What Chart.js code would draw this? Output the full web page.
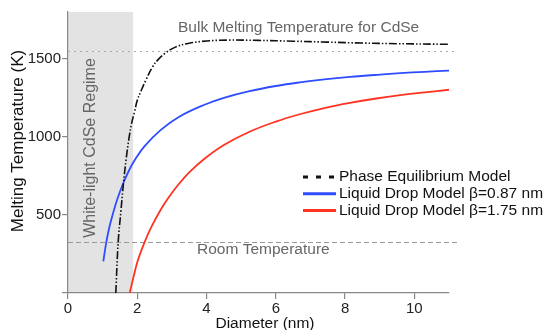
<!DOCTYPE html>
<html>
<head>
<meta charset="utf-8">
<script src="https://cdn.jsdelivr.net/npm/chart.js@4/dist/chart.umd.min.js"></script>
<style>
  html, body { margin: 0; padding: 0; background: #fff; }
  #wrap { width: 544px; height: 330px; }
</style>
</head>
<body>
<div id="wrap"><canvas id="grafico" width="544" height="330"></canvas></div>
<script>
// curve data (diameter in nm, temperature in K)
const phaseD = [1.38, 1.45, 1.53, 1.60, 1.68, 1.76, 1.84, 1.92, 2.00, 2.10, 2.25, 2.44, 2.60, 2.80, 3.10, 3.50, 4.00, 4.60, 5.50, 6.50, 7.50, 8.50, 9.50, 11.0]
const phaseT = [0, 330, 530, 700, 860, 990, 1090, 1160, 1235, 1290, 1365, 1448, 1495, 1535, 1575, 1600, 1614, 1620, 1618, 1613, 1607, 1601, 1597, 1593]

const smallD = [1.02, 1.10, 1.19, 1.30, 1.43, 1.60, 1.75, 1.91, 2.20, 2.68, 3.20, 3.94, 4.50, 5.24, 6.00, 6.69, 7.40, 8.14, 9.00, 9.59, 10.3, 11.0]
const smallT = [203, 318, 418, 510, 605, 706, 780, 846, 938, 1045, 1128, 1206, 1250, 1293, 1326, 1349, 1368, 1384, 1399, 1408, 1417, 1424]

const bigD = [1.78, 1.90, 2.01, 2.20, 2.40, 2.68, 2.90, 3.17, 3.50, 3.94, 4.50, 5.24, 6.00, 6.69, 7.40, 8.14, 8.90, 9.59, 10.3, 11.0]
const bigT = [0, 110, 205, 320, 420, 535, 610, 690, 773, 860, 948, 1033, 1098, 1145, 1185, 1218, 1246, 1267, 1285, 1302]

const xTicks = [0, 2, 4, 6, 8, 10]
const yTicks = [0, 500, 1000, 1500]

const bulkTemp = 1550
const roomTemp = 327
const whiteLightMax = 1.88

const labels = ["Phase Equilibrium Model", "Liquid Drop Model \u03b2=0.87 nm", "Liquid Drop Model \u03b2=1.75 nm"]

function pares(xs, ys) {
    return xs.map((x, i) => ({x: x, y: ys[i]}))
}

const fonte = "'Liberation Sans', Arial, sans-serif"

const anotacoes = {
    id: 'anotacoes',
    beforeDraw(chart) {
        const ctx = chart.ctx
        const a = chart.chartArea
        const x = chart.scales.x
        ctx.save()
        ctx.fillStyle = '#e3e3e3'
        ctx.fillRect(a.left, a.top, x.getPixelForValue(whiteLightMax) - a.left, a.bottom - a.top)
        ctx.restore()
    },
    beforeDatasetsDraw(chart) {
        const ctx = chart.ctx
        const a = chart.chartArea
        const y = chart.scales.y
        const xs = chart.scales.x
        const fim = xs.getPixelForValue(11.25)

        ctx.save()
        ctx.strokeStyle = '#aaaaaa'
        ctx.lineWidth = 1.2
        ctx.setLineDash([2, 4])
        let py = Math.round(y.getPixelForValue(bulkTemp)) + 0.5
        ctx.beginPath(); ctx.moveTo(a.left, py); ctx.lineTo(fim, py); ctx.stroke()

        ctx.strokeStyle = '#999999'
        ctx.setLineDash([5, 3])
        py = Math.round(y.getPixelForValue(roomTemp)) + 0.5
        ctx.beginPath(); ctx.moveTo(a.left, py); ctx.lineTo(fim, py); ctx.stroke()
        ctx.setLineDash([])

        ctx.fillStyle = '#666666'
        ctx.font = '15.5px ' + fonte
        ctx.textBaseline = 'middle'
        ctx.textAlign = 'left'
        ctx.fillText('Bulk Melting Temperature for CdSe', 178, 28)
        ctx.fillText('Room Temperature', 197, 250)

        ctx.save()
        ctx.translate(91, 148)
        ctx.rotate(-Math.PI / 2)
        ctx.textAlign = 'center'
        ctx.font = '16px ' + fonte
        ctx.fillText('White-light CdSe Regime', 0, 0)
        ctx.restore()

        // axis titles
        ctx.fillStyle = '#111111'
        ctx.textAlign = 'center'
        ctx.font = '15.5px ' + fonte
        ctx.fillText('Diameter (nm)', 265, 324)
        ctx.translate(18, 141)
        ctx.rotate(-Math.PI / 2)
        ctx.font = '17px ' + fonte
        ctx.fillText('Melting Temperature (K)', 0, 0)
        ctx.restore()
    },
    afterDraw(chart) {
        // legend inside the plot
        const ctx = chart.ctx
        ctx.save()
        ctx.font = '15.5px ' + fonte
        ctx.textBaseline = 'middle'
        ctx.fillStyle = '#111111'
        chart.data.datasets.forEach((ds, i) => {
            const ly = 177 + i * 16.7
            ctx.strokeStyle = ds.borderColor
            ctx.lineWidth = 3
            ctx.setLineDash(i === 0 ? [5, 8] : [])
            ctx.beginPath(); ctx.moveTo(303, ly); ctx.lineTo(336, ly); ctx.stroke()
            ctx.fillText(ds.label, 339, ly)
        })
        ctx.restore()
    }
}

var ctx = document.getElementById('grafico').getContext('2d')
var grafico = new Chart(ctx, {
    type: 'line',
    data: {
        datasets: [
            {
                label: labels[0],
                data: pares(phaseD, phaseT),
                borderColor: '#111111',
                backgroundColor: '#111111',
                borderWidth: 1.6,
                borderDash: [8, 2, 1.5, 2, 1.5, 2],
                tension: 0.4,
                pointRadius: 0
            },
            {
                label: labels[1],
                data: pares(smallD, smallT),
                borderColor: '#2f4dff',
                backgroundColor: '#2f4dff',
                borderWidth: 1.8,
                tension: 0.4,
                pointRadius: 0
            },
            {
                label: labels[2],
                data: pares(bigD, bigT),
                borderColor: '#ff3322',
                backgroundColor: '#ff3322',
                borderWidth: 1.8,
                tension: 0.4,
                pointRadius: 0
            }
        ]
    },
    options: {
        responsive: false,
        animation: false,
        layout: { padding: { top: 12, right: 95, left: 0, bottom: 0 } },
        plugins: {
            legend: { display: false },
            tooltip: { enabled: false }
        },
        scales: {
            x: {
                type: 'linear',
                min: 0,
                max: 11,
                afterFit: s => { s.height = 37 },
                afterBuildTicks: s => { s.ticks = xTicks.map(v => ({value: v})) },
                border: { color: '#888888', width: 1.2 },
                grid: { drawOnChartArea: false, color: '#888888', tickLength: 6, lineWidth: 1.2 },
                ticks: { color: '#222222', font: { family: fonte, size: 15 }, padding: 1, maxRotation: 0 }
            },
            y: {
                type: 'linear',
                min: 0,
                max: 1800,
                afterFit: s => { s.width = 68 },
                afterBuildTicks: s => { s.ticks = yTicks.map(v => ({value: v})) },
                border: { color: '#888888', width: 1.2 },
                grid: { drawOnChartArea: false, color: '#888888', tickLength: 6, lineWidth: 1.2 },
                ticks: {
                    color: '#222222',
                    font: { family: fonte, size: 15 },
                    padding: 1,
                    callback: v => v === 0 ? '' : v
                }
            }
        }
    },
    plugins: [anotacoes]
})
</script>
</body>
</html>
